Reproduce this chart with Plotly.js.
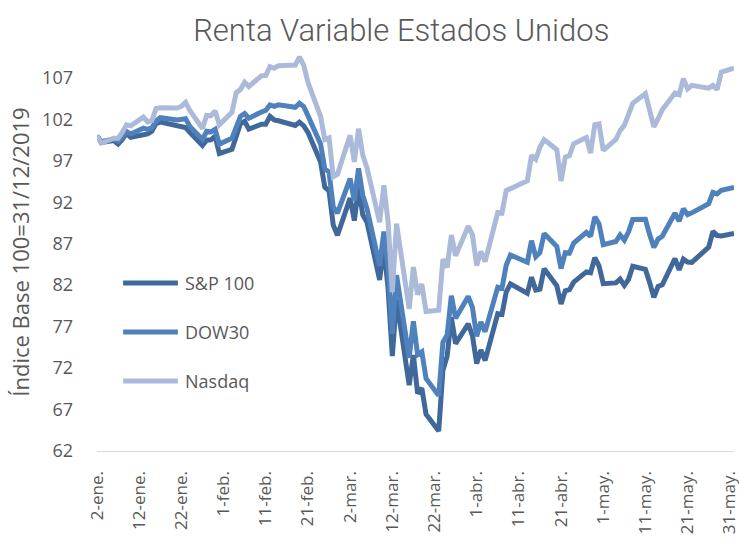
<!DOCTYPE html>
<html><head><meta charset="utf-8">
<script src="https://cdn.plot.ly/plotly-3.0.1.min.js"></script>
<style>html,body{margin:0;padding:0;background:#fff}</style>
</head><body><div id="chart" style="width:739px;height:543px"></div>
<script>
const dates = [
 "2020-01-02","2020-01-03","2020-01-06","2020-01-07","2020-01-08","2020-01-09","2020-01-10","2020-01-13","2020-01-14","2020-01-15","2020-01-16","2020-01-17","2020-01-21","2020-01-22","2020-01-23","2020-01-24","2020-01-27","2020-01-28","2020-01-29","2020-01-30","2020-01-31",
 "2020-02-03","2020-02-04","2020-02-05","2020-02-06","2020-02-07","2020-02-10","2020-02-11","2020-02-12","2020-02-13","2020-02-14","2020-02-18","2020-02-19","2020-02-20","2020-02-21","2020-02-24","2020-02-25","2020-02-26","2020-02-27","2020-02-28",
 "2020-03-02","2020-03-03","2020-03-04","2020-03-05","2020-03-06","2020-03-09","2020-03-10","2020-03-11","2020-03-12","2020-03-13","2020-03-16","2020-03-17","2020-03-18","2020-03-19","2020-03-20","2020-03-23","2020-03-24","2020-03-25","2020-03-26","2020-03-27","2020-03-30","2020-03-31",
 "2020-04-01","2020-04-02","2020-04-03","2020-04-06","2020-04-07","2020-04-08","2020-04-09","2020-04-13","2020-04-14","2020-04-15","2020-04-16","2020-04-17","2020-04-20","2020-04-21","2020-04-22","2020-04-23","2020-04-24","2020-04-27","2020-04-28","2020-04-29","2020-04-30",
 "2020-05-01","2020-05-04","2020-05-05","2020-05-06","2020-05-07","2020-05-08","2020-05-11","2020-05-12","2020-05-13","2020-05-14","2020-05-15","2020-05-18","2020-05-19","2020-05-20","2020-05-21","2020-05-22","2020-05-26","2020-05-27","2020-05-28","2020-05-29",
 "2020-06-01"
];
const sp100 = [
 100.0,99.19,99.43,99.01,99.57,100.31,99.84,100.13,100.25,100.56,101.49,101.66,101.13,101.10,101.01,100.42,98.85,99.49,99.53,99.97,97.88,
 98.38,99.79,101.46,101.77,100.81,101.41,101.41,102.36,101.92,101.83,101.26,101.66,101.22,100.43,96.85,93.81,93.38,89.25,88.02,
 92.50,89.78,93.84,90.48,89.59,82.62,86.66,81.59,73.44,80.31,69.93,73.57,68.93,69.58,66.42,64.40,71.72,73.44,78.12,74.95,77.34,75.92,
 72.55,74.18,72.92,78.56,78.47,81.17,82.16,81.02,82.96,81.42,81.53,83.98,81.92,79.74,81.32,81.46,82.36,83.60,83.49,85.33,84.33,
 82.18,82.27,82.73,81.97,82.70,84.28,83.90,82.32,80.53,81.84,82.05,85.20,83.85,85.13,84.78,84.75,86.58,88.50,87.99,87.93,
 88.24
];
const dow30 = [
 100.0,99.29,99.64,99.37,99.85,100.52,100.23,100.93,100.78,100.97,101.81,102.20,101.93,101.96,102.08,101.15,99.56,100.56,100.48,100.79,99.01,
 99.73,101.22,102.36,102.70,102.14,102.89,103.07,103.73,103.56,103.75,103.45,103.94,103.54,102.45,99.02,96.02,95.66,91.43,90.68,
 94.86,92.19,96.08,92.82,91.24,84.31,88.47,84.15,76.14,83.21,73.24,77.63,73.61,73.96,70.75,68.68,75.12,75.99,80.73,78.01,80.63,79.33,
 75.83,77.56,76.39,81.76,81.63,84.41,85.63,84.77,87.36,85.44,85.93,88.24,86.66,84.00,85.93,85.88,87.07,88.36,87.89,90.23,89.40,
 86.89,87.26,88.05,87.43,88.44,89.93,89.95,88.10,86.56,87.56,87.90,90.67,89.72,91.21,90.51,90.72,91.83,93.19,93.00,93.45,
 93.80
];
const nasdaq = [
 100.0,99.12,99.73,99.71,100.45,101.34,101.21,102.27,101.69,101.86,103.30,103.40,103.36,103.56,104.05,103.08,100.90,102.47,102.43,103.02,101.34,
 102.86,105.21,105.59,106.47,105.96,107.27,107.28,108.36,108.16,108.47,108.54,109.54,108.52,106.47,102.34,99.57,99.77,95.09,95.38,
 100.07,96.87,100.87,97.69,96.15,89.59,94.05,89.63,81.17,89.42,79.13,84.19,80.87,82.14,78.83,78.98,85.13,84.14,88.04,85.54,89.12,88.07,
 84.38,86.06,84.85,90.76,90.70,93.42,93.64,94.60,97.64,97.19,98.65,99.55,98.34,94.57,97.45,97.63,99.06,99.81,97.93,101.36,101.45,
 98.26,99.57,100.65,101.26,102.58,103.93,105.12,102.80,101.09,102.07,103.15,105.17,104.98,106.91,105.67,106.10,105.76,106.09,105.59,107.70,
 108.19
];
const tickDates = ["2020-01-02","2020-01-12","2020-01-22","2020-02-01","2020-02-11","2020-02-21","2020-03-02","2020-03-12","2020-03-22","2020-04-01","2020-04-11","2020-04-21","2020-05-01","2020-05-11","2020-05-21","2020-05-31"];
const tickLabels = ["2-ene.","12-ene.","22-ene.","1-feb.","11-feb.","21-feb.","2-mar.","12-mar.","22-mar.","1-abr.","11-abr.","21-abr.","1-may.","11-may.","21-may.","31-may."];
const yTicks = [62,67,72,77,82,87,92,97,102,107];
const seriesNames = ["S&P 100","DOW30","Nasdaq"];
const seriesColors = ["#41689b","#4f81bd","#abbad9"];
const seriesValues = [sp100, dow30, nasdaq];

const font = "'Open Sans', 'Noto Sans', sans-serif";
const traces = seriesValues.map((v, i) => ({
  x: dates, y: v, type: "scatter", mode: "lines", name: seriesNames[i],
  line: {color: seriesColors[i], width: 5, shape: "linear"},
  hoverinfo: "skip", showlegend: false
}));

// Legend drawn inside the plot (paper coordinates)
const legendX0 = 0.041, legendX1 = 0.127, legendTextX = 0.135;
const legendRowsY = [0.422, 0.299, 0.176];
const shapes = seriesNames.map((n, i) => ({
  type: "line", xref: "paper", yref: "paper", x0: legendX0, x1: legendX1, y0: legendRowsY[i], y1: legendRowsY[i],
  line: {color: seriesColors[i], width: 5}
}));
const annotations = seriesNames.map((n, i) => ({
  text: n, xref: "paper", yref: "paper", x: legendTextX, y: legendRowsY[i], xanchor: "left", yanchor: "middle",
  showarrow: false, font: {family: font, size: 18, color: "#595959"}
}));

const layout = {
  width: 739, height: 543,
  paper_bgcolor: "#ffffff", plot_bgcolor: "#ffffff",
  margin: {l: 97, r: 5, t: 53, b: 92, pad: 0},
  title: {text: "Renta Variable Estados Unidos", font: {family: "Roboto, 'Open Sans', sans-serif", size: 31, color: "#595959", weight: 300},
          x: 0.543, xref: "container", xanchor: "center", y: 0.945, yref: "container", yanchor: "middle"},
  showlegend: false,
  shapes: shapes,
  annotations: annotations,
  xaxis: {type: "date", range: ["2020-01-02", "2020-06-01"], tickmode: "array", tickvals: tickDates, ticktext: tickLabels,
          tickangle: -90, ticks: "", showgrid: false, zeroline: false, showline: true, linecolor: "#d9d9d9", linewidth: 1.3,
          tickfont: {family: font, size: 17, color: "#595959"}, ticklabelstandoff: 12, ticklabeloverflow: "allow", fixedrange: true},
  yaxis: {range: [62, 110], tickmode: "array", tickvals: yTicks, ticks: "", showgrid: false, zeroline: false, showline: false,
          tickfont: {family: font, size: 18, color: "#595959"}, ticklabelstandoff: 23,
          title: {text: "Índice Base 100=31/12/2019", font: {family: font, size: 22, color: "#595959"}, standoff: 6}, fixedrange: true}
};
Plotly.newPlot("chart", traces, layout, {displayModeBar: false, staticPlot: true});
</script></body></html>
